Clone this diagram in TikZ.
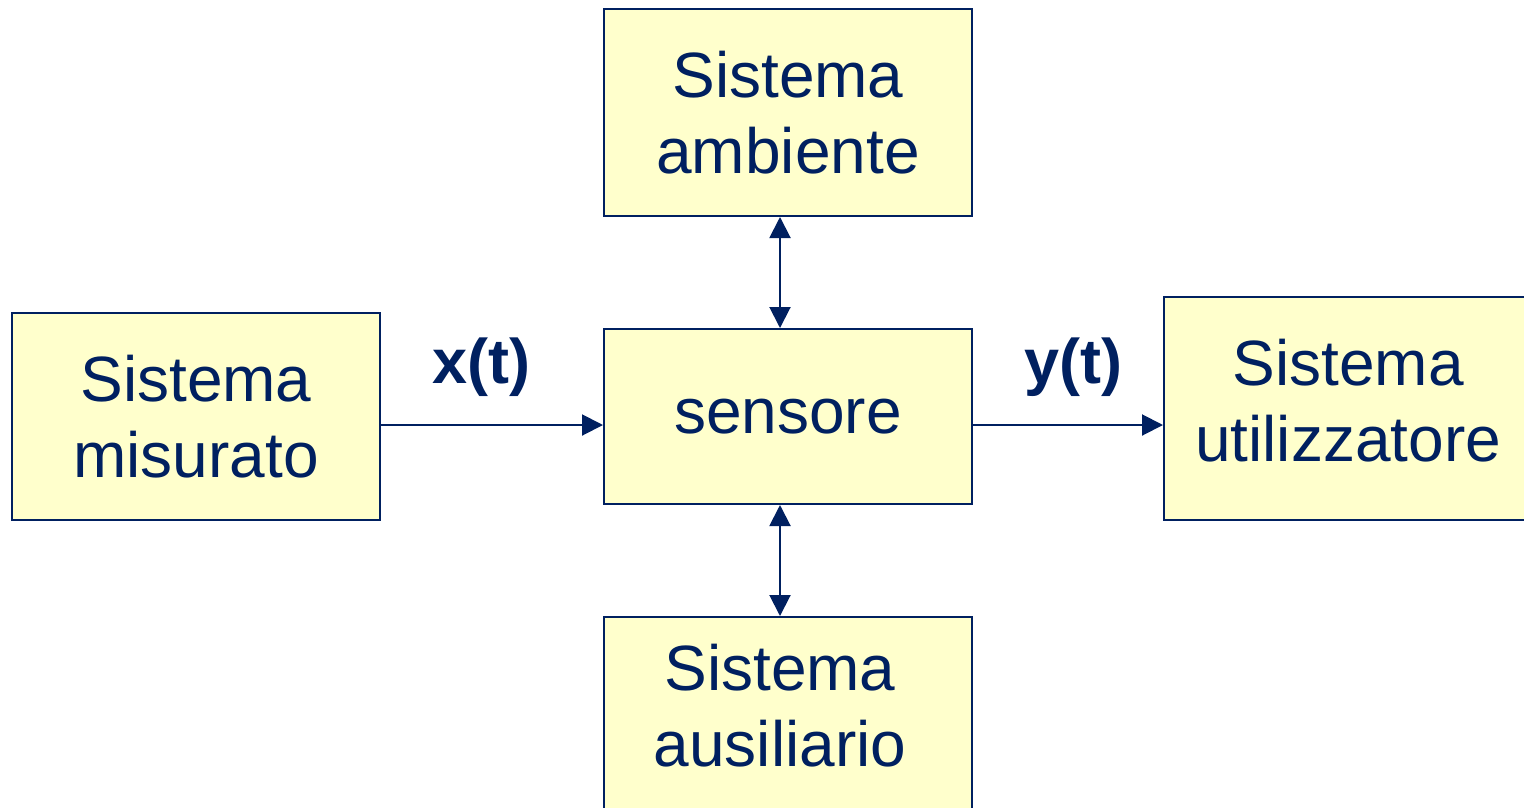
\documentclass[tikz,border=0pt]{standalone}
\usepackage{fontspec}
\setmainfont{Liberation Sans}
\usetikzlibrary{arrows.meta}
\definecolor{navy}{RGB}{0,32,96}
\definecolor{paleyellow}{RGB}{255,255,204}
\begin{document}
\begin{tikzpicture}[x=1pt,y=-1pt,
  blk/.style={draw=navy,fill=paleyellow,line width=2pt,inner sep=0pt,
    align=center,text=navy,font=\fontsize{64}{76}\selectfont},
  lbl/.style={text=navy,font=\fontsize{63}{76}\selectfont\bfseries,inner sep=0pt},
  txt/.style={text=navy,font=\fontsize{64}{76}\selectfont,align=center,inner sep=0pt},
  arr/.style={draw=navy,line width=2pt,-{Triangle[length=21pt,width=21pt]}},
  darr/.style={draw=navy,line width=2pt,{Triangle[length=21pt,width=21pt]}-{Triangle[length=21pt,width=21pt]}}]
\useasboundingbox (0,0) rectangle (1524,807);
\clip (0,0) rectangle (1524,807);
\node[blk,minimum width=368pt,minimum height=207pt] (amb) at (788,112.5) {Sistema\\ambiente};
\node[blk,minimum width=368pt,minimum height=175pt] (sen) at (788,416.5) {sensore};
\node[blk,minimum width=368pt,minimum height=207pt] (mis) at (196,416.5) {Sistema\\misurato};
\node[blk,minimum width=366pt,minimum height=223pt] (uti) at (1347,408.5) {};
\node[txt] (utit) at (1348,401) {Sistema\\utilizzatore};
\node[blk,minimum width=368pt,minimum height=220pt] (aus) at (788,727) {};
\node[txt] (aust) at (780,706) {Sistema\\ausiliario};
\node[lbl] (xt) at (481,367) {x(t)};
\node[lbl] (yt) at (1073,367) {y(t)};
\draw[arr] ([yshift=-8.5pt]mis.east) -- ([yshift=-8.5pt]sen.west);
\draw[arr] ([yshift=-8.5pt]sen.east) -- ([yshift=-16.5pt]uti.west);
\draw[darr] ([xshift=-8pt]amb.south) -- ([xshift=-8pt]sen.north);
\draw[darr] ([xshift=-8pt]sen.south) -- ([xshift=-8pt]aus.north);
\end{tikzpicture}
\end{document}
